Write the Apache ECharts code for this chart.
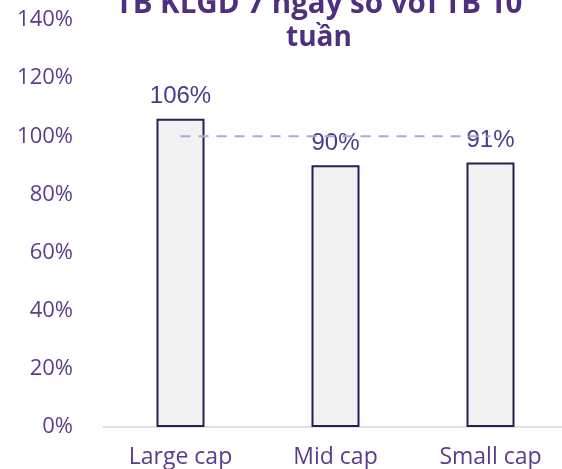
<!DOCTYPE html>
<html>
<head>
<meta charset="utf-8">
<script src="https://cdn.jsdelivr.net/npm/echarts@6/dist/echarts.min.js"></script>
<style>
html,body{margin:0;padding:0;background:#fff;}
#chart{width:562px;height:469px;}
</style>
</head>
<body>
<div id="chart"></div>
<script>
const titleLine1 = "TB KLGD 7 ngày so với TB 10";
const titleLine2 = "tuần";
const categories = ["Large cap", "Mid cap", "Small cap"];
const ratioValues = [106, 90, 91];
const baselineValues = [100, 100, 100];

const chart = echarts.init(document.getElementById('chart'), null, {renderer: 'canvas'});
chart.setOption({
  animation: false,
  title: [
    {text: titleLine1, left: 314, top: -15, textAlign: 'center',
     textStyle: {fontFamily: 'Open Sans', fontWeight: 'bold', fontSize: 29.5, color: '#4f2f80'}},
    {text: titleLine2, left: 314, top: 19, textAlign: 'center',
     textStyle: {fontFamily: 'Open Sans', fontWeight: 'bold', fontSize: 28, color: '#4f2f80'}}
  ],
  grid: {left: 103, width: 465, top: 20, bottom: 42, outerBoundsMode: 'none', containLabel: false},
  xAxis: {
    type: 'category',
    data: categories,
    axisLine: {lineStyle: {color: '#d9d9d9', width: 1.5}},
    axisTick: {show: false},
    axisLabel: {fontFamily: 'Open Sans', fontSize: 23, color: '#5b3d8c', margin: 19}
  },
  yAxis: {
    type: 'value',
    min: 0, max: 140, interval: 20,
    splitLine: {show: false},
    axisLine: {show: false},
    axisTick: {show: false},
    axisLabel: {fontFamily: 'Open Sans', fontSize: 22, color: '#5b3d8c', margin: 30,
      formatter: v => v + '%'}
  },
  series: [
    {
      type: 'bar',
      data: ratioValues,
      barWidth: 48,
      itemStyle: {color: '#f2f2f2', borderColor: '#2b1d54', borderWidth: 2},
      label: {show: true, position: 'top', distance: 10, formatter: p => p.value + '%',
        fontFamily: 'Liberation Sans', fontSize: 24, color: '#4b3b8f'},
      z: 2
    },
    {
      type: 'line',
      data: baselineValues,
      symbol: 'none',
      lineStyle: {color: '#b3a6d0', width: 2, type: [10, 8]},
      z: 3
    }
  ]
});
</script>
</body>
</html>
